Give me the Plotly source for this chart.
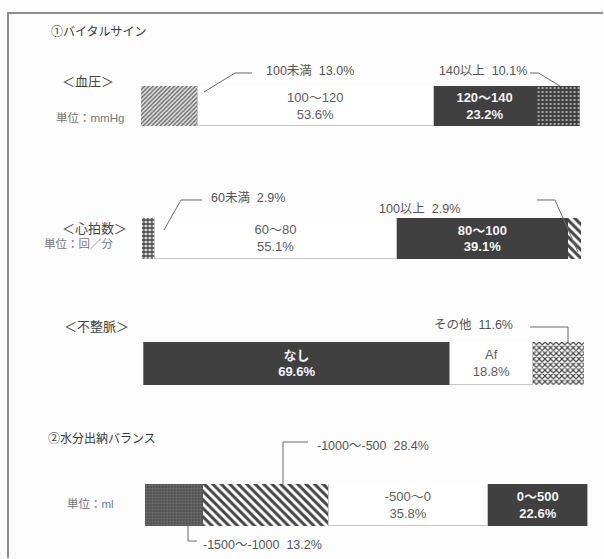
import plotly.graph_objects as go

W, H = 604, 559

# ---- data -----------------------------------------------------------------
bp_labels = ["100未満", "100～120", "120～140", "140以上"]
bp_values = [13.0, 53.6, 23.2, 10.1]

hr_labels = ["60未満", "60～80", "80～100", "100以上"]
hr_values = [2.9, 55.1, 39.1, 2.9]

ar_labels = ["なし", "Af", "その他"]
ar_values = [69.6, 18.8, 11.6]

wb_labels = ["-1500～-1000", "-1000～-500", "-500～0", "0～500"]
wb_values = [13.2, 28.4, 35.8, 22.6]

# ---- styling ----------------------------------------------------------------
FONT = "Liberation Sans, Noto Sans CJK JP, sans-serif"
DARK = "#404040"
TXT = "#555555"

STYLES = {
    "white": dict(color="#ffffff", pattern=None, text="#5e5e5e", bold=False),
    "dark": dict(color=DARK, pattern=None, text="#f4f4f4", bold=True),
    "hatch": dict(color="#ffffff", pattern=dict(shape="/", bgcolor="#e6e6e6", fgcolor="#707070",
                                                size=3, solidity=0.5)),
    "dashdark": dict(color=DARK, pattern=dict(shape=".", bgcolor=DARK, fgcolor="#d0d0d0",
                                              size=4, solidity=0.18)),
    "brick": dict(color="#ffffff", pattern=dict(shape="+", bgcolor="#dedede", fgcolor="#454545",
                                                size=4, solidity=0.55)),
    "stripe": dict(color="#ffffff", pattern=dict(shape="\\", bgcolor="#ffffff", fgcolor="#454545",
                                                 size=6, solidity=0.5)),
    "check": dict(color="#ffffff", pattern=dict(shape="x", bgcolor="#ffffff", fgcolor="#454545",
                                                size=4, solidity=0.5)),
    "dotdark": dict(color="#505050", pattern=dict(shape=".", bgcolor="#525252", fgcolor="#767676",
                                                  size=3, solidity=0.3)),
}


def px(x, y):
    """pixel position -> paper coordinates"""
    return x / W, 1 - y / H


rows = [
    dict(labels=bp_labels, values=bp_values,
         styles=["hatch", "white", "dark", "dashdark"],
         inner=[False, True, True, False],
         box=(140.6, 86, 579.7, 126)),
    dict(labels=hr_labels, values=hr_values,
         styles=["brick", "white", "dark", "stripe"],
         inner=[False, True, True, False],
         box=(141.8, 218, 581.0, 259)),
    dict(labels=ar_labels, values=ar_values,
         styles=["dark", "white", "check"],
         inner=[True, True, False],
         box=(143.3, 342, 584.4, 385)),
    dict(labels=wb_labels, values=wb_values,
         styles=["dotdark", "stripe", "white", "dark"],
         inner=[False, False, True, True],
         box=(144.8, 484, 587.4, 526)),
]

fig = go.Figure()
layout_axes = {}

for i, row in enumerate(rows):
    n = "" if i == 0 else str(i + 1)
    xref, yref = "x" + n, "y" + n
    x0, y0, x1, y1 = row["box"]
    layout_axes["xaxis" + n] = dict(domain=[x0 / W, x1 / W], range=[0, sum(row["values"])],
                                    visible=False, anchor=yref, fixedrange=True)
    layout_axes["yaxis" + n] = dict(domain=[1 - y1 / H, 1 - y0 / H], range=[-0.5, 0.5],
                                    visible=False, anchor=xref, fixedrange=True)
    for lab, val, st, inner in zip(row["labels"], row["values"], row["styles"], row["inner"]):
        s = STYLES[st]
        marker = dict(color=s["color"], line=dict(width=0))
        if s.get("pattern"):
            marker["pattern"] = dict(fillmode="replace", **s["pattern"])
        if st == "white":
            marker["line"] = dict(width=0.8, color="#b8b8b8")
        trace = dict(x=[val], y=[0], width=[1], orientation="h", xaxis=xref, yaxis=yref,
                     marker=marker, hoverinfo="skip", showlegend=False)
        if inner:
            trace.update(text=[f"{lab}<br>{val:.1f}%"], textposition="inside",
                         insidetextanchor="middle", textangle=0, constraintext="none",
                         textfont=dict(family=FONT, size=13, color=s["text"],
                                       weight="bold" if s["bold"] else "normal"))
        fig.add_trace(go.Bar(**trace))

annotations = []


def note(text, x, y, size=12.5, color=TXT, anchor="left"):
    ax, ay = px(x, y)
    annotations.append(dict(text=text, x=ax, y=ay, xref="paper", yref="paper",
                            xanchor=anchor, yanchor="middle", showarrow=False,
                            font=dict(family=FONT, size=size, color=color)))


def outer(label, value):
    return f"{label}\u00a0\u00a0{value:.1f}%"


# section / category headings
note("①バイタルサイン", 49, 32, size=12, color="#3a3a3a")
note("＜血圧＞", 60, 82, size=13, color="#444444")
note("単位：mmHg", 54, 117, size=11.5, color="#777777")
note("＜心拍数＞", 60, 228, size=13, color="#444444")
note("単位：回／分", 42, 243, size=11.5, color="#777777")
note("＜不整脈＞", 62, 327, size=13, color="#444444")
note("②水分出納バランス", 46, 438, size=12, color="#3a3a3a")
note("単位：ml", 65, 503, size=11.5, color="#777777")

# callout labels for the narrow segments
note(outer(bp_labels[0], bp_values[0]), 264, 71)
note(outer(bp_labels[3], bp_values[3]), 437, 71)
note(outer(hr_labels[0], hr_values[0]), 209, 198)
note(outer(hr_labels[3], hr_values[3]), 377, 209)
note(outer(ar_labels[2], ar_values[2]), 432, 325)
note(outer(wb_labels[1], wb_values[1]), 315, 446)
note(outer(wb_labels[0], wb_values[0]), 201, 545)

shapes = []


def leader(*pts, color="#6a6a6a", width=1):
    p = [px(x, y) for x, y in pts]
    path = "M " + " L ".join(f"{a:.5f},{b:.5f}" for a, b in p)
    shapes.append(dict(type="path", path=path, xref="paper", yref="paper",
                       line=dict(color=color, width=width)))


leader((204, 92), (235, 73), (252, 73))
leader((530, 73), (538.5, 73), (560, 86))
leader((164, 230), (181, 200), (202, 200))
leader((537, 200), (555, 200), (578, 252))
leader((530, 327), (568, 327), (568, 342))
leader((308, 442), (283, 442), (283, 484))
leader((188, 526), (188, 541), (197, 541))

# outer frame (open on the right and bottom)
leader((8, H - 1), (8, 13), (W - 1, 13), color="#8f8f8f", width=2)

fig.update_layout(
    width=W, height=H,
    margin=dict(l=0, r=0, t=0, b=0),
    paper_bgcolor="#fdfdfd", plot_bgcolor="rgba(0,0,0,0)",
    barmode="stack", bargap=0,
    annotations=annotations, shapes=shapes,
    font=dict(family=FONT),
    **layout_axes,
)

fig.write_html("out.html", config={"displayModeBar": False})
